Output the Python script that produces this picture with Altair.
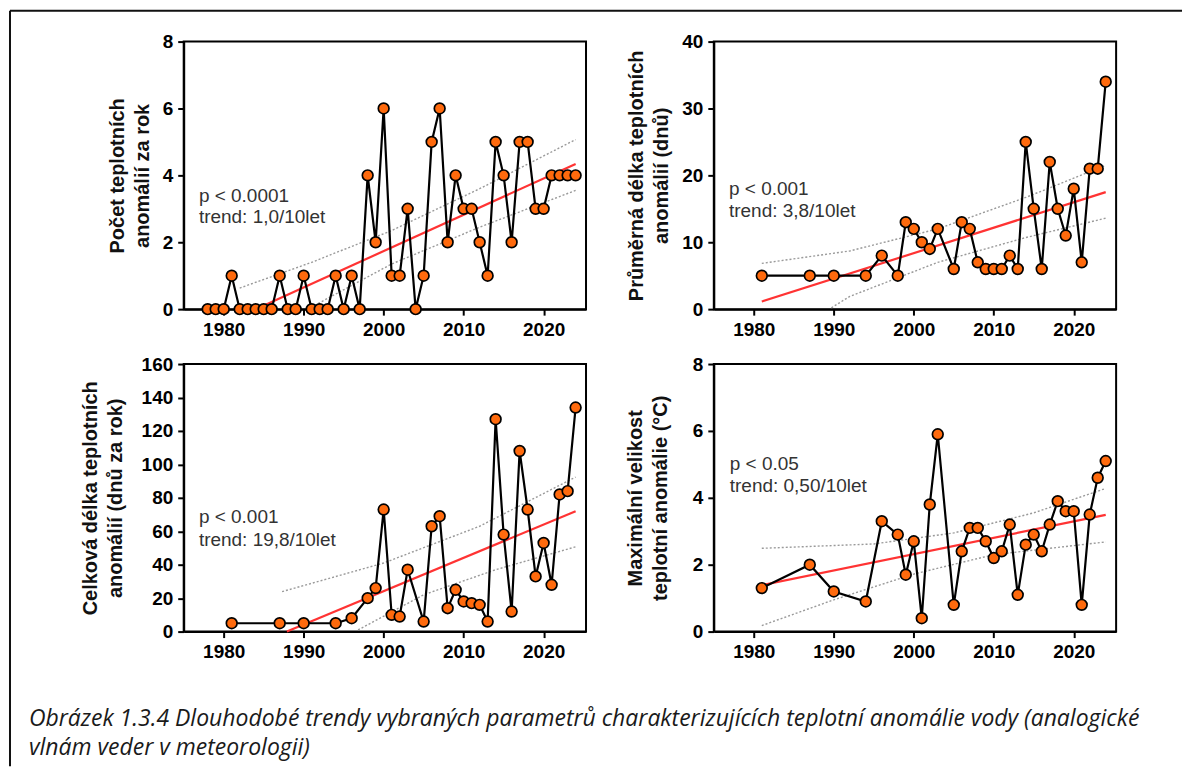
import altair as alt
import pandas as pd

# ---------------- data ----------------
years_all = [1978, 1979, 1980, 1981, 1982, 1983, 1984, 1985, 1986, 1987, 1988, 1989,
             1990, 1991, 1992, 1993, 1994, 1995, 1996, 1997, 1998, 1999, 2000, 2001,
             2002, 2003, 2004, 2005, 2006, 2007, 2008, 2009, 2010, 2011, 2012, 2013,
             2014, 2015, 2016, 2017, 2018, 2019, 2020, 2021, 2022, 2023, 2024]
count_per_year = [0, 0, 0, 1, 0, 0, 0, 0, 0, 1, 0, 0,
                  1, 0, 0, 0, 1, 0, 1, 0, 4, 2, 6, 1,
                  1, 3, 0, 1, 5, 6, 2, 4, 3, 3, 2, 1,
                  5, 4, 2, 5, 5, 3, 3, 4, 4, 4, 4]

years_event = [1981, 1987, 1990, 1994, 1996, 1998, 1999, 2000, 2001, 2002, 2003,
               2005, 2006, 2007, 2008, 2009, 2010, 2011, 2012, 2013, 2014, 2015,
               2016, 2017, 2018, 2019, 2020, 2021, 2022, 2023, 2024]
mean_duration = [5, 5, 5, 5, 8, 5, 13, 12, 10, 9, 12,
                 6, 13, 12, 7, 6, 6, 6, 8, 6, 25, 15,
                 6, 22, 15, 11, 18, 7, 21, 21, 34]
total_duration = [5, 5, 5, 5, 8, 20, 26, 73, 10, 9, 37,
                  6, 63, 69, 14, 25, 18, 17, 16, 6, 127, 58,
                  12, 108, 73, 33, 53, 28, 82, 84, 134]
max_magnitude = [1.3, 2.0, 1.2, 0.9, 3.3, 2.9, 1.7, 2.7, 0.4, 3.8, 5.9,
                 0.8, 2.4, 3.1, 3.1, 2.7, 2.2, 2.4, 3.2, 1.1, 2.6, 2.9,
                 2.4, 3.2, 3.9, 3.6, 3.6, 0.8, 3.5, 4.6, 5.1]

# regression lines (red) and confidence bands (dotted)
trend1_x, trend1_y = [1984, 2024], [0.0, 4.34]
upper1_x, upper1_y = [1982, 1991, 2001, 2012, 2024], [0.63, 1.4, 2.35, 3.6, 5.07]
lower1_x, lower1_y = [1990.5, 2001, 2012, 2024], [0.0, 1.35, 2.45, 3.55]

trend2_x, trend2_y = [1981, 2024], [1.14, 17.5]
upper2_x, upper2_y = [1981, 1992, 2003, 2014, 2024], [6.84, 8.7, 12.0, 16.7, 21.5]
lower2_x, lower2_y = [1989.7, 1992, 2003, 2014, 2024], [0.2, 1.9, 7.0, 10.7, 13.6]

trend3_x, trend3_y = [1987.9, 2024], [0.0, 72.0]
upper3_x, upper3_y = [1987.3, 2000, 2012, 2024], [23.9, 41.0, 63.0, 92.4]
lower3_x, lower3_y = [1996.8, 2005, 2014, 2024], [1.0, 22.0, 37.0, 50.7]

trend4_x, trend4_y = [1981, 2024], [1.39, 3.49]
upper4_x, upper4_y = [1981, 1995, 2005, 2015, 2024], [2.49, 2.62, 2.95, 3.55, 4.28]
lower4_x, lower4_y = [1981, 1990, 2000, 2010, 2024], [0.18, 0.95, 1.72, 2.3, 2.68]

titles = [
    ["Počet teplotních", "anomálií za rok"],
    ["Průměrná délka teplotních", "anomálií (dnů)"],
    ["Celková délka teplotních", "anomálií (dnů za rok)"],
    ["Maximální velikost", "teplotní anomálie (°C)"],
]
notes = [
    ["p < 0.0001", "trend: 1,0/10let"],
    ["p < 0.001", "trend: 3,8/10let"],
    ["p < 0.001", "trend: 19,8/10let"],
    ["p < 0.05", "trend: 0,50/10let"],
]
y_domains = [[0, 8], [0, 40], [0, 160], [0, 8]]
y_ticks = [[0, 2, 4, 6, 8], [0, 10, 20, 30, 40],
           [0, 20, 40, 60, 80, 100, 120, 140, 160], [0, 2, 4, 6, 8]]
x_ticks = [1980, 1990, 2000, 2010, 2020]
caption = [
    "Obrázek 1.3.4 Dlouhodobé trendy vybraných parametrů charakterizujících teplotní anomálie vody (analogické",
    "vlnám veder v meteorologii)",
]

# annotation anchor (year, value of line 1, value of line 2)
note_pos = [(1976.9, 3.39, 2.74), (1976.9, 17.9, 14.6), (1976.9, 68.7, 54.7), (1977.0, 5.01, 4.36)]
title_pad = [10, 10, 16, 22]

W, H = 403, 268
ORANGE = "#FF6A0D"


def band_df(ux, uy, lx, ly):
    return pd.DataFrame({
        "year": list(ux) + list(lx),
        "value": list(uy) + list(ly),
        "band": ["upper"] * len(ux) + ["lower"] * len(lx),
    })


def panel(i, xs, ys, trend, upper, lower, extra=None):
    df = pd.DataFrame({"year": xs, "value": ys})
    xsc = alt.Scale(domain=[1975, 2025.3], nice=False, zero=False)
    ysc = alt.Scale(domain=y_domains[i], nice=False)
    xenc = alt.X("year:Q", scale=xsc,
                 axis=alt.Axis(values=x_ticks, format="d", title=None))
    yenc = alt.Y("value:Q", scale=ysc,
                 axis=alt.Axis(values=y_ticks[i], title=titles[i], titlePadding=title_pad[i]))

    bands = alt.Chart(band_df(*upper, *lower)).mark_line(
        color="#9a9a9a", strokeWidth=1.4, strokeDash=[2, 2]
    ).encode(x=xenc, y=yenc, detail="band:N")

    tdf = pd.DataFrame({"year": trend[0], "value": trend[1]})
    tline = alt.Chart(tdf).mark_line(color="#FF3333", strokeWidth=2.2).encode(x=xenc, y=yenc)

    line = alt.Chart(df).mark_line(color="black", strokeWidth=2.2).encode(x=xenc, y=yenc)
    pts = alt.Chart(df).mark_point(
        shape="circle", filled=True, fill=ORANGE, stroke="black",
        strokeWidth=1.7, size=115, opacity=1
    ).encode(x=xenc, y=yenc)

    nx, ny1, ny2 = note_pos[i]
    ndf = pd.DataFrame({"year": [nx, nx], "value": [ny1, ny2], "label": notes[i]})
    note = alt.Chart(ndf).mark_text(
        align="left", baseline="middle", font="Liberation Sans", fontSize=19, color="#333333"
    ).encode(x=xenc, y=yenc, text="label:N")

    layers = [bands, tline, line, pts, note]
    if extra:
        layers += extra
    return alt.layer(*layers).properties(width=W, height=H)


one = pd.DataFrame({"k": [0]})
frame_top = alt.Chart(one).mark_rule(color="#111111", strokeWidth=2).encode(
    x=alt.value(-174), x2=alt.value(1000), y=alt.value(-31))
frame_left = alt.Chart(one).mark_rule(color="#111111", strokeWidth=2).encode(
    x=alt.value(-174), y=alt.value(-31), y2=alt.value(726))

cap1 = alt.Chart(one).mark_text(
    align="left", baseline="middle", font="Open Sans", fontStyle="italic",
    fontSize=23, color="#1a1a1a"
).encode(x=alt.value(-155), y=alt.value(356), text=alt.value(caption[0]))
cap2 = alt.Chart(one).mark_text(
    align="left", baseline="middle", font="Open Sans", fontStyle="italic",
    fontSize=23, color="#1a1a1a"
).encode(x=alt.value(-155), y=alt.value(385), text=alt.value(caption[1]))

p1 = panel(0, years_all, count_per_year, (trend1_x, trend1_y),
           (upper1_x, upper1_y), (lower1_x, lower1_y), extra=[frame_top, frame_left])
p2 = panel(1, years_event, mean_duration, (trend2_x, trend2_y),
           (upper2_x, upper2_y), (lower2_x, lower2_y))
p3 = panel(2, years_event, total_duration, (trend3_x, trend3_y),
           (upper3_x, upper3_y), (lower3_x, lower3_y), extra=[cap1, cap2])
p4 = panel(3, years_event, max_magnitude, (trend4_x, trend4_y),
           (upper4_x, upper4_y), (lower4_x, lower4_y))

chart = alt.concat(
    p1, p2, p3, p4, columns=2,
    spacing={"row": 55, "column": 128},
    bounds="flush",
).properties(padding=0).configure_axis(
    domainColor="black", domainWidth=2, tickColor="black", tickWidth=2, tickSize=6,
    labelFont="Liberation Sans", labelFontWeight="bold", labelFontSize=19,
    labelColor="black", labelPadding=5,
    titleFont="Liberation Sans", titleFontWeight="bold", titleFontSize=20,
    titleColor="#111111", titleLineHeight=25, grid=False,
).configure_view(stroke="black", strokeWidth=2)

chart.save("out.html", embed_options={"renderer": "svg", "actions": False})
